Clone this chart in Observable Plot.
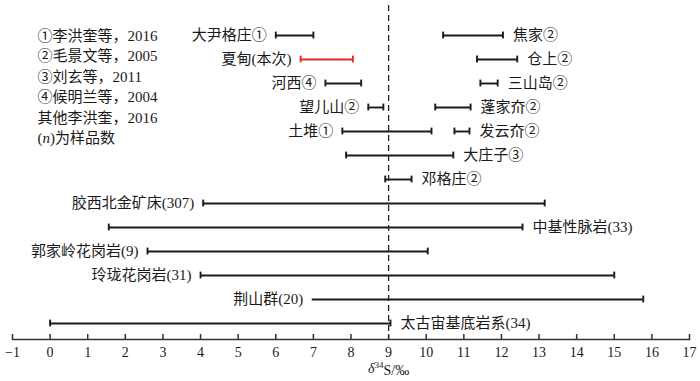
<!DOCTYPE html>
<html><head><meta charset="utf-8">
<script src="https://cdn.jsdelivr.net/npm/d3@7"></script>
<script src="https://cdn.jsdelivr.net/npm/@observablehq/plot@0.6"></script>
<style>
body{margin:0;background:#fff;}
#chart svg{display:block;}
#chart svg, #chart svg text, #chart svg tspan{font-family:"Liberation Serif","Times New Roman","Noto Sans CJK SC",serif !important;}
</style></head><body><div id="chart"></div>
<script>
// ---- data ----
const sites = ["大尹格庄①","焦家②","夏甸(本次)","仓上②","河西④","三山岛②","望儿山②","蓬家夼②","土堆①","发云夼②","大庄子③","邓格庄②","胶西北金矿床(307)","中基性脉岩(33)","郭家岭花岗岩(9)","玲珑花岗岩(31)","荆山群(20)","太古宙基底岩系(34)"];
const rowNo = [1,1,2,2,3,3,4,4,5,5,6,7,8,9,10,11,12,13];
const lowValues  = [6.0,10.45,6.66,11.35,7.32,11.44,8.46,10.24,7.77,10.75,7.87,8.91,4.07,1.56,2.59,4.0,6.97,0.0];
const highValues = [7.0,12.04,8.05,12.42,8.27,11.90,8.86,11.18,10.14,11.15,10.72,9.61,13.15,12.56,10.04,15.0,15.77,9.05];
const labelSide  = ["L","R","L","R","L","R","L","R","L","R","R","R","L","R","L","L","L","R"];
const thisStudy = "夏甸(本次)";
const noLeftCap = ["荆山群(20)"];
const refValue = 9;
const xTicks = [-1,0,1,2,3,4,5,6,7,8,9,10,11,12,13,14,15,16,17];
const rows = [1,2,3,4,5,6,7,8,9,10,11,12,13];
const legendLines = ["①李洪奎等，2016","②毛景文等，2005","③刘玄等，2011","④候明兰等，2004","其他李洪奎，2016","(n)为样品数"];
const axisTitle = "δ34S/‰";

const data = sites.map((s,i)=>({site:s,row:rowNo[i],lo:lowValues[i],hi:highValues[i],side:labelSide[i]}));
const black = "#1a1a1a", red = "#e8262a";
const col = d => d.site === thisStudy ? red : black;

const W = 700, H = 381, mT = 5, mB = 42;
const capInset = 8.6;

const plot = Plot.plot({
  width: W, height: H,
  marginLeft: 12, marginRight: 11, marginTop: mT, marginBottom: mB,
  style: {fontFamily: '"Liberation Serif","Noto Sans CJK SC",serif', fontSize: "15px", color: "#1a1a1a", background: "#fff"},
  x: {domain: [-1, 17]},
  y: {type: "band", domain: rows, range: [21, 337], padding: 0, axis: null},
  marks: [
    Plot.ruleX([refValue], {x: d => d, stroke: "#222", strokeWidth: 1.3, strokeDasharray: "6,4"}),
    Plot.ruleY(data, {y: "row", x1: "lo", x2: "hi", stroke: col, strokeWidth: 1.9}),
    Plot.tickX(data.filter(d => !noLeftCap.includes(d.site)), {x: "lo", y: "row", stroke: col, strokeWidth: 1.9, insetTop: capInset, insetBottom: capInset}),
    Plot.tickX(data, {x: "hi", y: "row", stroke: col, strokeWidth: 1.9, insetTop: capInset, insetBottom: capInset}),
    Plot.text(data.filter(d => d.side === "L"), {x: "lo", y: "row", text: "site", textAnchor: "end", dx: -9, fill: "#1a1a1a", fontSize: 15}),
    Plot.text(data.filter(d => d.side === "R"), {x: "hi", y: "row", text: "site", textAnchor: "start", dx: 10, fill: "#1a1a1a", fontSize: 15}),
    Plot.text([legendLines.join("\n")], {frameAnchor: "top-left", dx: 25, dy: 21, lineAnchor: "top", lineHeight: 1.36, textAnchor: "start", fontSize: 15, fill: "#1a1a1a"}),
    Plot.frame({anchor: "bottom", stroke: "#333", strokeWidth: 1.6}),
    Plot.ruleX(xTicks, {x: d => d, stroke: "#333", strokeWidth: 1.5, insetTop: H - mT - mB - 5}),
    Plot.axisX({ticks: xTicks, tickSize: 0, tickPadding: 8, fontSize: 14, tickFormat: d => d < 0 ? "−" + (-d) : String(d)}),
    Plot.text([axisTitle], {x: refValue, frameAnchor: "bottom", dy: 33, fontSize: 14, fill: "#1a1a1a"})
  ]
});
document.getElementById("chart").appendChild(plot);

// typographic details: italic δ with superscript 34, italic n
d3.select(plot).selectAll("text").filter(function(){ return this.textContent === axisTitle; }).each(function(){
  const t = d3.select(this); t.text("");
  t.append("tspan").attr("font-style","italic").text("δ");
  t.append("tspan").attr("font-size","9px").attr("dy","-0.5em").text("34");
  t.append("tspan").attr("dy","0.5em").text("S/‰");
});
d3.select(plot).selectAll("tspan").filter(function(){ return this.textContent === legendLines[5]; }).each(function(){
  const t = d3.select(this); t.text("");
  t.append("tspan").text("(");
  t.append("tspan").attr("font-style","italic").text("n");
  t.append("tspan").text(")为样品数");
});
</script></body></html>
